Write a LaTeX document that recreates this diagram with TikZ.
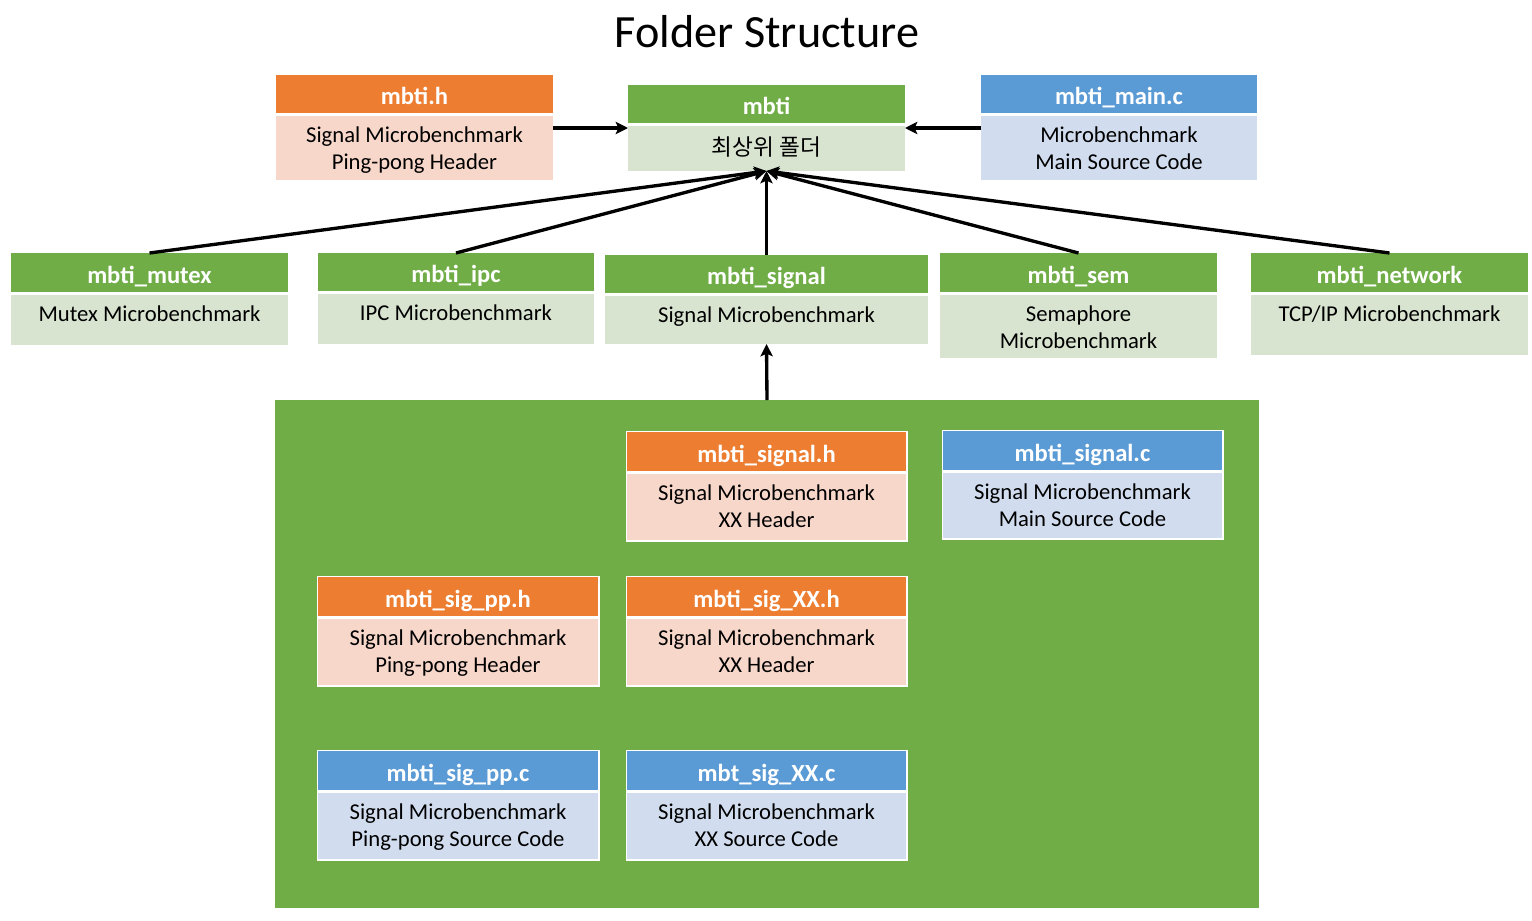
\documentclass[tikz,border=0pt]{standalone}
\usepackage{fontspec}
\setmainfont{Carlito}
\newfontfamily\kr{Noto Sans CJK KR}
\usetikzlibrary{arrows.meta}
\definecolor{orh}{HTML}{ED7D31}
\definecolor{orb}{HTML}{F8D7CB}
\definecolor{blh}{HTML}{5B9BD5}
\definecolor{blb}{HTML}{D1DDEF}
\definecolor{grh}{HTML}{70AD47}
\definecolor{grb}{HTML}{D8E4D0}
\tikzset{
 hdr/.style={inner sep=0pt, outer sep=0pt, font=\fontsize{14}{16}\selectfont\bfseries, text=white, text height=13pt, text depth=0.8pt},
 bdy/.style={inner sep=0pt, outer sep=0pt},
 bodytext/.style={inner sep=0pt, align=center, font=\fontsize{12.9}{15.3}\selectfont, text=black},
 arr/.style={line width=1.9pt, -{Stealth[length=7pt,width=7pt,inset=1.5pt]}},
 grpbox/.style={fill=grh, inner sep=0pt, outer sep=0pt},
 titletext/.style={font=\fontsize{26.3}{30}\selectfont},
}
\newcommand\fnode[9]{%
  \fill[white] (#2-1.5,#4-1.5) rectangle (#3+1.5,#6+1.5);
  \node[hdr, fill=#7h, minimum width={(#3-#2)*0.02cm}, minimum height={(#5-#4)*0.02cm}] (#1-h) at ({(#2+#3)/2},{(#4+#5)/2}) {#8};
  \node[bdy, fill=#7b, minimum width={(#3-#2)*0.02cm}, minimum height={(#6-#5-3)*0.02cm}, label={[bodytext,anchor=north,yshift=-0.21cm]north:{#9}}] (#1-b) at ({(#2+#3)/2},{(#5+3+#6)/2}) {};
}
\begin{document}
\begin{tikzpicture}[x=0.02cm,y=-0.02cm]
\useasboundingbox (0,0) rectangle (1532,920);
\node[titletext] (title) at (767,32) {Folder Structure};
\fnode{mbtih}{276}{553}{75}{113}{180}{or}{mbti.h}{Signal Microbenchmark\\Ping-pong Header}
\fnode{mbti}{628}{905}{85}{123}{171}{gr}{mbti}{{\kr 최상위 폴더}}
\fnode{main}{981}{1257}{75}{113}{180}{bl}{mbti\_main.c}{Microbenchmark\\Main Source Code}
\fnode{mutex}{11}{288}{253}{292}{345}{gr}{mbti\_mutex}{Mutex Microbenchmark}
\fnode{ipc}{318}{594}{253}{291}{344}{gr}{mbti\_ipc}{IPC Microbenchmark}
\fnode{signal}{605}{928}{255}{293}{344}{gr}{mbti\_signal}{Signal Microbenchmark}
\fnode{sem}{940}{1217}{253}{292}{358}{gr}{mbti\_sem}{Semaphore\\Microbenchmark}
\fnode{net}{1251}{1528}{253}{292}{355}{gr}{mbti\_network}{TCP/IP Microbenchmark}
\node[grpbox, minimum width={984*0.02cm}, minimum height={508*0.02cm}] (grp) at (767,654) {};
\fnode{sigh}{627}{906}{432}{471}{540}{or}{mbti\_signal.h}{Signal Microbenchmark\\XX Header}
\fnode{sigc}{943}{1222}{431}{470}{538}{bl}{mbti\_signal.c}{Signal Microbenchmark\\Main Source Code}
\fnode{pph}{318}{598}{577}{616}{685}{or}{mbti\_sig\_pp.h}{Signal Microbenchmark\\Ping-pong Header}
\fnode{xxh}{627}{906}{577}{616}{685}{or}{mbti\_sig\_XX.h}{Signal Microbenchmark\\XX Header}
\fnode{ppc}{318}{598}{751}{790}{859}{bl}{mbti\_sig\_pp.c}{Signal Microbenchmark\\Ping-pong Source Code}
\fnode{xxc}{627}{906}{751}{790}{859}{bl}{mbt\_sig\_XX.c}{Signal Microbenchmark\\XX Source Code}
\draw[arr] ([yshift=-0.04cm]mbtih-b.east |- mbti-b.north) -- ([yshift=-0.04cm]mbti-b.north west);
\draw[arr] ([yshift=-0.04cm]main-b.west |- mbti-b.north) -- ([yshift=-0.04cm]mbti-b.north east);
\foreach \n in {mutex,ipc,signal,sem,net} \draw[arr] (\n-h.north) -- (mbti-b.south);
\draw[arr] (grp.north) -- (signal-b.south);
\end{tikzpicture}
\end{document}
